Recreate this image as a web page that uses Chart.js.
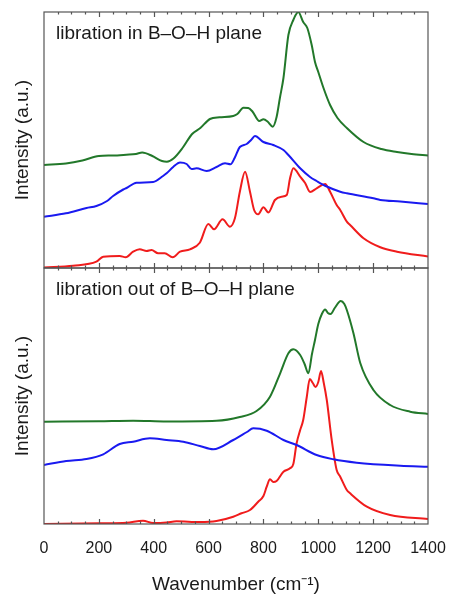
<!DOCTYPE html>
<html>
<head>
<meta charset="utf-8">
<script src="https://cdn.jsdelivr.net/npm/chart.js@4/dist/chart.umd.min.js"></script>
<style>
  body { margin: 0; background: #fff; }
  #spectra { display: block; }
</style>
</head>
<body>
<canvas id="spectra" width="453" height="598"></canvas>
<script>
// Panel titles and axis labels
const panelTitles = ['libration in B\u2013O\u2013H plane', 'libration out of B\u2013O\u2013H plane'];
const xTitle = 'Wavenumber (cm\u207B\u00B9)';
const yTitle = 'Intensity (a.u.)';

// Top panel: libration in B-O-H plane (wavenumber, intensity in a.u.)
const inGreenX = [0, 80, 140, 200, 250, 300, 335, 358, 395, 430, 448, 472, 505, 540, 570, 605, 640, 690, 705, 727, 745, 760, 785, 800, 815, 834, 848, 860, 873, 891, 909, 927, 945, 960, 976, 988, 1000, 1019, 1043, 1070, 1104, 1165, 1230, 1287, 1340, 1400];
const inGreenY = [103, 104.5, 107.5, 112, 112.5, 113.3, 114, 115.5, 112, 107, 106.3, 109.5, 120, 134, 140, 149, 150.7, 152, 154, 160.3, 160, 156.5, 147, 148.7, 146.5, 141.3, 151, 170, 190, 233, 248, 256, 246, 240, 223, 206, 196, 180, 163, 150, 140, 126, 119, 116, 114, 112.5];

const inBlueX = [0, 80, 155, 191, 230, 252, 289, 301, 337, 398, 434, 447, 471, 496, 520, 538, 556, 593, 629, 660, 680, 695, 714, 739, 755, 769, 800, 836, 873, 891, 934, 970, 994, 1031, 1080, 1104, 1201, 1226, 1299, 1400];
const inBlueY = [51.3, 54.7, 60, 62, 67, 72, 78.5, 80, 85.3, 86, 92, 94.7, 101, 105.5, 104, 99, 99.7, 97, 101, 104.7, 103.7, 110, 121, 124, 128, 132, 126, 123, 118, 113, 99.7, 91, 87, 81.5, 76.3, 74.7, 69.7, 68, 66.5, 64];

const inRedX = [0, 106, 191, 216, 276, 298, 325, 349, 374, 392, 416, 440, 469, 496, 532, 568, 599, 620, 651, 678, 696, 714, 733, 751, 766, 781, 800, 818, 842, 867, 885, 897, 909, 934, 952, 970, 994, 1025, 1043, 1067, 1080, 1104, 1116, 1165, 1226, 1287, 1400];
const inRedY = [0.5, 2.3, 6.3, 11.3, 12, 10.7, 16.3, 18.7, 17, 18, 14.7, 14.7, 10.7, 16.3, 18.7, 25.3, 44, 38.7, 48.7, 41.3, 49.7, 76.3, 96.3, 76.3, 58, 53.7, 60.7, 55.5, 68, 71.3, 73, 89.7, 99.7, 91.3, 85, 76, 79.7, 84, 76.3, 63, 58, 46.3, 43, 29.7, 20.7, 16.3, 11.5];

// Bottom panel: libration out of B-O-H plane
const outGreenX = [0, 200, 325, 447, 629, 714, 775, 824, 861, 891, 909, 934, 950, 964, 977, 988, 1000, 1013, 1025, 1035, 1045, 1060, 1082, 1095, 1104, 1128, 1153, 1201, 1262, 1335, 1400];
const outGreenY = [102.3, 102.8, 103.3, 102.5, 103.2, 107, 113, 127.3, 150.7, 170.7, 174.7, 169, 160, 150.7, 170, 184, 200, 210, 214.5, 211, 210, 216, 223, 220, 214, 191, 161, 134, 119, 112.3, 110];

const outBlueX = [0, 81, 155, 216, 276, 325, 386, 447, 508, 568, 617, 690, 740, 763, 812, 873, 921, 994, 1055, 1140, 1299, 1400];
const outBlueY = [59, 63, 65, 69.7, 80, 82.3, 85.7, 84, 82.3, 78, 74.7, 84, 92, 95.7, 93.3, 84, 79, 69, 64.7, 61.3, 58.3, 57.3];

const outRedX = [0, 203, 301, 361, 398, 447, 483, 568, 629, 690, 720, 751, 781, 800, 812, 824, 836, 848, 873, 897, 909, 921, 934, 945, 958, 969, 980, 990, 1000, 1010, 1020, 1031, 1049, 1067, 1080, 1104, 1116, 1177, 1262, 1400];
const outRedY = [0, 0.7, 1.3, 3.3, 1, 1.5, 2.7, 2, 3, 7.3, 10.7, 14, 22.3, 28, 37.3, 44.7, 42, 43, 52.3, 55.7, 60, 80.7, 94, 104, 127, 145, 141, 137, 142, 153, 141, 124, 84, 54, 47.3, 34, 30.7, 17.3, 9, 5];

const GREEN = '#22782a';
const BLUE = '#1a1af0';
const RED = '#f01c1c';

function points(xs, ys) {
    return xs.map((x, i) => ({ x: x, y: ys[i] }));
}

function spectrum(xs, ys, color, axis) {
    return {
        data: points(xs, ys),
        borderColor: color,
        borderWidth: 2,
        pointRadius: 0,
        cubicInterpolationMode: 'monotone',
        yAxisID: axis
    };
}

// frame, inward ticks and panel titles
const panelFrame = {
    id: 'panelFrame',
    afterDatasetsDraw(chart) {
        const ctx = chart.ctx;
        const x = chart.scales.x;
        const panels = [chart.scales.yTop, chart.scales.yBot];
        ctx.save();
        ctx.strokeStyle = '#555';
        ctx.lineWidth = 1.2;
        panels.forEach((p, i) => {
            ctx.strokeRect(x.left, p.top, x.right - x.left, p.bottom - p.top);
            ctx.beginPath();
            for (let v = 50; v < 1400; v += 50) {
                const px = Math.round(x.getPixelForValue(v)) + 0.5;
                const len = v % 200 === 0 ? 5 : 2.5;
                ctx.moveTo(px, p.top);
                ctx.lineTo(px, p.top + len);
                ctx.moveTo(px, p.bottom);
                ctx.lineTo(px, p.bottom - len);
            }
            ctx.stroke();
            ctx.fillStyle = '#1a1a1a';
            ctx.font = '19px "Liberation Sans", Arial, sans-serif';
            ctx.textBaseline = 'alphabetic';
            ctx.fillText(panelTitles[i], x.left + 12, p.top + 27);
        });
        ctx.restore();
    }
};

Chart.defaults.font.family = '"Liberation Sans", Arial, sans-serif';
Chart.defaults.color = '#1a1a1a';

const panelAxis = {
    type: 'linear',
    position: 'left',
    stack: 'panels',
    stackWeight: 1,
    min: 0,
    max: 256,
    grid: { display: false, drawTicks: false },
    border: { display: false },
    ticks: { display: false },
    title: { display: true, text: yTitle, font: { size: 19 }, padding: { top: 11, bottom: 0 } },
    afterFit: (scale) => { scale.width = 44; }
};

const ctx = document.getElementById('spectra').getContext('2d');
const spectraChart = new Chart(ctx, {
    type: 'line',
    data: {
        datasets: [
            spectrum(inGreenX, inGreenY, GREEN, 'yTop'),
            spectrum(inBlueX, inBlueY, BLUE, 'yTop'),
            spectrum(inRedX, inRedY, RED, 'yTop'),
            spectrum(outGreenX, outGreenY, GREEN, 'yBot'),
            spectrum(outBlueX, outBlueY, BLUE, 'yBot'),
            spectrum(outRedX, outRedY, RED, 'yBot')
        ]
    },
    options: {
        responsive: false,
        animation: false,
        layout: { padding: { top: 12, right: 25, left: 0, bottom: 0 } },
        plugins: {
            legend: { display: false },
            tooltip: { enabled: false }
        },
        scales: {
            x: {
                type: 'linear',
                min: 0,
                max: 1400,
                grid: { display: false, drawTicks: false },
                border: { display: false },
                ticks: { stepSize: 200, padding: 15, font: { size: 16 }, maxRotation: 0, callback: (v) => String(v) },
                title: { display: true, text: xTitle, font: { size: 19 }, padding: { top: 0, bottom: 2 } },
                afterFit: (scale) => {
                    scale.height = 74;
                    scale.paddingLeft = 0;
                    scale.paddingRight = 0;
                }
            },
            // stacked scales are placed bottom-up in definition order
            yBot: Object.assign({}, panelAxis),
            yTop: Object.assign({}, panelAxis)
        }
    },
    plugins: [panelFrame]
});
</script>
</body>
</html>
